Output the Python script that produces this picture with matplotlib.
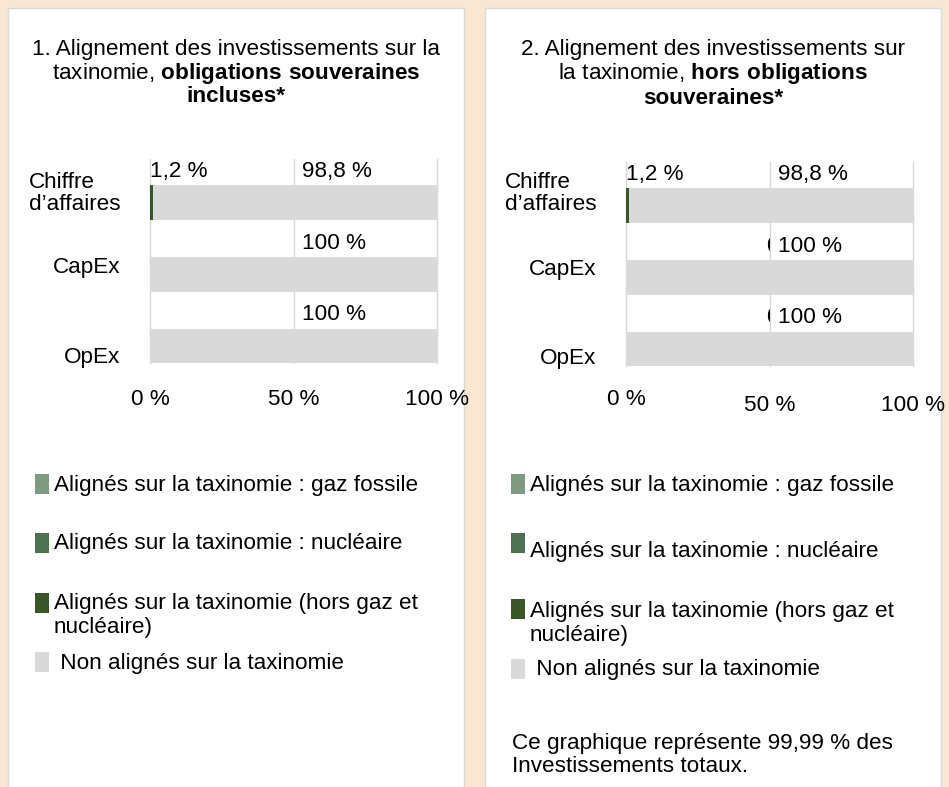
import matplotlib
matplotlib.use('Agg')
import matplotlib.pyplot as plt
from matplotlib.patches import Rectangle
from matplotlib.transforms import Bbox, TransformedBbox, blended_transform_factory

W, H = 949, 787

# data
categories = ['Chiffre\nd’affaires', 'CapEx', 'OpEx']
gas_incl = [0, 0, 0]
nuclear_incl = [0, 0, 0]
aligned_incl = [1.2, 0, 0]
non_aligned_incl = [98.8, 100, 100]
gas_excl = [0, 0, 0]
nuclear_excl = [0, 0, 0]
aligned_excl = [1.2, 0, 0]
non_aligned_excl = [98.8, 100, 100]
aligned_labels_incl = ['1,2 %', '', '']
non_aligned_labels_incl = ['98,8 %', '100 %', '100 %']
aligned_labels_excl = ['1,2 %', '0 %', '0 %']
non_aligned_labels_excl = ['98,8 %', '100 %', '100 %']
xticks = [0, 50, 100]
xtick_labels = ['0 %', '50 %', '100 %']
legend_labels = ['Alignés sur la taxinomie : gaz fossile',
                 'Alignés sur la taxinomie : nucléaire',
                 'Alignés sur la taxinomie (hors gaz et\nnucléaire)',
                 ' Non alignés sur la taxinomie']

BG = '#F9E7D4'
BORDER = '#D9D9D9'
GREY = '#D9D9D9'
COL_GAS = '#7F9A7F'
COL_NUC = '#4F7153'
COL_ALIGNED = '#3A5528'
legend_colors = [COL_GAS, COL_NUC, COL_ALIGNED, GREY]

FS = 16.2
plt.rcParams['font.family'] = ['Liberation Sans', 'DejaVu Sans']
plt.rcParams['font.size'] = FS
plt.rcParams['mathtext.fontset'] = 'custom'
plt.rcParams['mathtext.rm'] = 'Liberation Sans'
plt.rcParams['mathtext.bf'] = 'Liberation Sans:bold'


def fx(px):
    return px / W


def fy(py):
    return 1 - py / H


def rect(x0, y0, x1, y1):
    return [fx(x0), fy(y1), fx(x1) - fx(x0), (y1 - y0) / H]


fig = plt.figure(figsize=(W / 100, H / 100), dpi=100, facecolor=BG)

# white panels
for x0, x1 in [(8, 464), (485, 941)]:
    fig.patches.append(Rectangle((fx(x0), fy(800)), fx(x1) - fx(x0), (800 - 8) / H,
                                 transform=fig.transFigure, facecolor='white',
                                 edgecolor=BORDER, linewidth=1, zorder=-2))


def draw_panel(box, gas, nuc, aligned, non_aligned, lab_al, lab_non,
               cat_dy, tick_y, clip_zero):
    ax = fig.add_axes(rect(*box))
    ax.set_facecolor('none')
    y = list(range(len(categories)))
    h = 0.49
    ax.barh(y, aligned, height=h, color=COL_ALIGNED, zorder=3)
    left = [a for a in aligned]
    ax.barh(y, nuc, left=left, height=h, color=COL_NUC, zorder=3)
    left = [l + n for l, n in zip(left, nuc)]
    ax.barh(y, gas, left=left, height=h, color=COL_GAS, zorder=3)
    left = [l + g for l, g in zip(left, gas)]
    ax.barh(y, non_aligned, left=left, height=h, color=GREY, zorder=2)
    ax.set_xlim(0, 100)
    ax.set_ylim(2.235, -0.605)
    for xv in xticks:
        ax.axvline(xv, color=BORDER, lw=1, zorder=1, clip_on=False)
    for s in ax.spines.values():
        s.set_visible(False)
    ax.set_xticks([])
    ax.set_yticks([])

    trans_y = blended_transform_factory(ax.transAxes, ax.transData)
    for i, c in enumerate(categories):
        ax.text(-0.103, i + cat_dy[i], c, transform=trans_y, ha='right',
                va='center', multialignment='left', linespacing=1.06)

    for i in y:
        if lab_al[i]:
            t = ax.text(0 if aligned[i] else 49.1, i - 0.435, lab_al[i],
                        ha='left', va='center', zorder=4)
            if clip_zero and not aligned[i]:
                t.set_clip_box(TransformedBbox(Bbox([[0, -1], [50, 3]]), ax.transData))
                t.set_clip_on(True)
        ax.text(53, i - 0.435, lab_non[i], ha='left', va='center', zorder=4)

    trans_x = blended_transform_factory(ax.transData, ax.transAxes)
    for xv, lab, ty in zip(xticks, xtick_labels, tick_y):
        ax.text(xv, ty, lab, transform=trans_x, ha='center', va='center')
    return ax


draw_panel((150, 159, 437, 363), gas_incl, nuclear_incl, aligned_incl,
           non_aligned_incl, aligned_labels_incl, non_aligned_labels_incl,
           [-0.12, -0.09, 0.16], [-0.18, -0.18, -0.18], False)
draw_panel((626, 162, 913, 366), gas_excl, nuclear_excl, aligned_excl,
           non_aligned_excl, aligned_labels_excl, non_aligned_labels_excl,
           [-0.16, -0.11, 0.125], [-0.162, -0.196, -0.196], True)

# titles
fig.text(fx(236), fy(49), '1. Alignement des investissements sur la', ha='center', va='center')
fig.text(fx(236), fy(73), r'taxinomie, $\mathbf{obligations\ souveraines}$', ha='center', va='center')
fig.text(fx(236), fy(97), 'incluses*', ha='center', va='center', fontweight='bold')
fig.text(fx(713), fy(49), '2. Alignement des investissements sur', ha='center', va='center')
fig.text(fx(713), fy(73), r'la taxinomie, $\mathbf{hors\ obligations}$', ha='center', va='center')
fig.text(fx(713), fy(98), 'souveraines*', ha='center', va='center', fontweight='bold')

# legends
legend_left = dict(sw_x=35, sw_y=[474, 533, 593, 652], txt_x=[54, 54, 54, 54],
                   txt_y=[485, 544, 604, 664])
legend_right = dict(sw_x=511, sw_y=[474, 533, 599, 659], txt_x=[530, 530, 530, 530],
                    txt_y=[485, 551, 611, 670])
for lg in [legend_left, legend_right]:
    for i, lab in enumerate(legend_labels):
        fig.patches.append(Rectangle((fx(lg['sw_x']), fy(lg['sw_y'][i] + 20)), 14 / W, 20 / H,
                                     transform=fig.transFigure, facecolor=legend_colors[i],
                                     edgecolor='none', zorder=2))
        lines = lab.split('\n')
        for j, ln in enumerate(lines):
            fig.text(fx(lg['txt_x'][i]), fy(lg['txt_y'][i] + 24 * j), ln, ha='left', va='center')

fig.text(fx(512), fy(743), 'Ce graphique représente 99,99 % des', ha='left', va='center')
fig.text(fx(512), fy(767), 'Investissements totaux.', ha='left', va='center')

fig.savefig('out.png', dpi=100, facecolor=BG)
